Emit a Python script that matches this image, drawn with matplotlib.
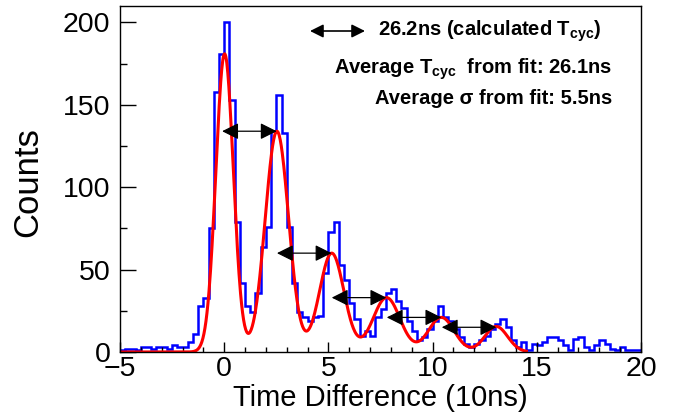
import numpy as np
import matplotlib
matplotlib.use('Agg')
import matplotlib.pyplot as plt

plt.rcParams['font.family'] = ['Liberation Sans', 'DejaVu Sans']
plt.rcParams['mathtext.fontset'] = 'custom'
plt.rcParams['mathtext.rm'] = 'Liberation Sans:bold'
plt.rcParams['mathtext.it'] = 'Liberation Sans:bold'
plt.rcParams['mathtext.bf'] = 'Liberation Sans:bold'

# histogram: 100 bins of 0.25 from -5 to 20
bin_low = -5.0
bin_high = 20.0
counts = [1, 2, 2, 1, 3, 3, 2, 3, 3, 2,
          4, 3, 3, 6, 11, 28, 33, 75, 158, 181,
          200, 153, 79, 42, 28, 24, 36, 64, 76, 134,
          156, 133, 76, 42, 24, 21, 19, 21, 22, 48,
          73, 79, 53, 44, 30, 20, 10, 13, 10, 21,
          26, 36, 38, 31, 27, 19, 13, 7, 9, 14,
          19, 28, 21, 19, 14, 9, 5, 3, 5, 7,
          10, 14, 17, 20, 15, 7, 3, 6, 1, 5,
          4, 6, 9, 9, 7, 4, 1, 8, 9, 3,
          1, 4, 7, 5, 2, 1, 3, 1, 1, 1]

# fitted gaussian peaks
fit_mean = [0.02, 2.53, 5.16, 7.79, 10.42, 13.05]
fit_amp = [181, 134, 60, 33, 21, 15.5]
fit_sigma = [0.42, 0.56, 0.59, 0.65, 0.62, 0.55]
fit_range = (-5.0, 14.5)

# period arrows between neighbouring peaks
arrow_x0 = [-0.10, 2.53, 5.16, 7.80, 10.44]
arrow_x1 = [2.52, 5.15, 7.78, 10.42, 13.06]
arrow_y = [134, 60, 33, 21, 15]

W, H = 673, 415
fig = plt.figure(figsize=(W / 100, H / 100), dpi=100)
ax = fig.add_axes([120 / W, 63 / H, 521 / W, 346 / H])

edges = np.linspace(bin_low, bin_high, len(counts) + 1)
ax.stairs(counts, edges, color='#0000ff', lw=1.8, baseline=None)

xf = np.linspace(fit_range[0], fit_range[1], 800)
yf = np.zeros_like(xf)
for m, a, s in zip(fit_mean, fit_amp, fit_sigma):
    yf += a * np.exp(-0.5 * ((xf - m) / s) ** 2)
ax.plot(xf, yf, color='#ff0000', lw=2.2)

for x0, x1, y in zip(arrow_x0, arrow_x1, arrow_y):
    ax.annotate('', xy=(x1, y), xytext=(x0, y),
                arrowprops=dict(arrowstyle='<|-|>,head_length=0.5,head_width=0.25',
                                mutation_scale=20, color='black', lw=0.9,
                                shrinkA=0, shrinkB=0))

ax.set_xlim(bin_low, bin_high)
ax.set_ylim(0, 210)
ax.set_xticks([-5, 0, 5, 10, 15, 20])
ax.set_xticks(np.arange(-5, 21, 1), minor=True)
ax.set_yticks([0, 50, 100, 150, 200])
ax.set_yticks(np.arange(0, 210, 25), minor=True)
ax.tick_params(which='both', direction='in', labelsize=20.5, width=1)
ax.tick_params(axis='x', which='major', length=7, pad=3)
ax.tick_params(axis='x', which='minor', length=3.5)
ax.tick_params(axis='y', which='major', length=11.5, pad=7)
ax.tick_params(axis='y', which='minor', length=5)
for sp in ax.spines.values():
    sp.set_linewidth(1.0)

ax.set_xlabel('Time Difference (10ns)', fontsize=21)
ax.xaxis.set_label_coords(0.5, -0.093)
ax.set_ylabel('Counts', fontsize=25)
ax.yaxis.set_label_coords(-0.145, 0.49)

# legend text block
ax.annotate('', xy=(365 / W, 1 - 31 / H), xytext=(310 / W, 1 - 31 / H),
            xycoords='figure fraction', textcoords='figure fraction',
            arrowprops=dict(arrowstyle='<|-|>,head_length=0.5,head_width=0.25',
                            mutation_scale=16, color='black', lw=1.2,
                            shrinkA=0, shrinkB=0))
fig.text(378 / W, 1 - 31 / H, r'26.2ns (calculated T$_{cyc}$)', fontsize=14.5,
         fontweight='bold', ha='left', va='center')
fig.text(612 / W, 1 - 69 / H, r'Average T$_{cyc}$  from fit: 26.1ns', fontsize=14.5,
         fontweight='bold', ha='right', va='center')
fig.text(612 / W, 1 - 99 / H, 'Average σ from fit: 5.5ns', fontsize=14.5,
         fontweight='bold', ha='right', va='center')

fig.savefig('out.png', dpi=100)
